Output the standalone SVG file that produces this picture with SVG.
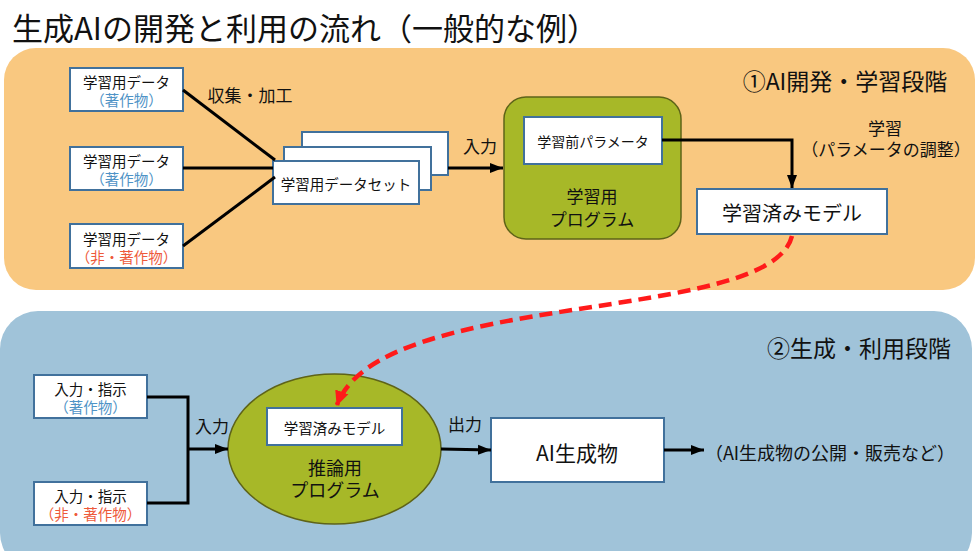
<svg xmlns="http://www.w3.org/2000/svg" width="978" height="551" viewBox="0 0 978 551">
<defs>
<marker id="ah" markerUnits="userSpaceOnUse" markerWidth="14" markerHeight="12" refX="13" refY="6" orient="auto">
<path d="M0,1 L13,6 L0,11 Z" fill="#000"/>
</marker>
<marker id="ahr" markerUnits="userSpaceOnUse" markerWidth="16" markerHeight="16" refX="14" refY="8" orient="auto">
<path d="M0,1 L15,8 L0,15 Z" fill="#FF1A1A"/>
</marker>
<style>
text{font-family:"Noto Sans CJK JP","Noto Sans CJK SC",sans-serif;fill:#111;text-anchor:middle;dominant-baseline:central}
.box{fill:#fff;stroke:#41719C;stroke-width:2}
.ln{fill:none;stroke:#000;stroke-width:3}
.blue{fill:#4F93C6}
.red{fill:#EE5A3A}
.s15{font-size:14.5px}
.s17{font-size:17px}
.s18{font-size:18px}
.green{fill:#A7B828;stroke:#5E6318;stroke-width:1.5}
</style>
</defs>
<rect width="978" height="551" fill="#fff"/>
<text x="12" y="26" style="font-size:31px;text-anchor:start">生成AIの開発と利用の流れ（一般的な例）</text>
<rect id="panel1" x="4" y="48" width="971" height="242" rx="32" fill="#F9C880"/>
<rect id="panel2" x="0" y="311" width="972" height="260" rx="38" fill="#A0C3D9"/>
<text x="845" y="80" style="font-size:23px">①AI開発・学習段階</text>
<text x="859" y="347" style="font-size:23px">②生成・利用段階</text>

<g id="data1">
<rect class="box" x="70" y="68" width="113" height="43"/>
<text x="126.5" y="81" class="s15">学習用データ</text>
<text x="126.5" y="99" class="s15 blue">（著作物）</text>
</g>
<g id="data2">
<rect class="box" x="70" y="147" width="113" height="43"/>
<text x="126.5" y="160" class="s15">学習用データ</text>
<text x="126.5" y="178" class="s15 blue">（著作物）</text>
</g>
<g id="data3">
<rect class="box" x="70" y="224" width="113" height="44"/>
<text x="126.5" y="238" class="s15">学習用データ</text>
<text x="126.5" y="256" class="s15 red">（非・著作物）</text>
</g>
<g id="dataset">
<rect class="box" x="302" y="132" width="146" height="43"/>
<rect class="box" x="284" y="147" width="147" height="43"/>
<rect class="box" x="273" y="161" width="146" height="43"/>
<text x="346" y="183" class="s15">学習用データセット</text>
</g>
<g id="program">
<rect class="green" x="504" y="97" width="177" height="142" rx="22"/>
<rect class="box" x="524" y="117" width="138" height="47"/>
<text x="593" y="141" style="font-size:14px">学習前パラメータ</text>
<text x="592" y="195" class="s17">学習用</text>
<text x="592" y="218" class="s17">プログラム</text>
</g>
<g id="model">
<rect class="box" x="697" y="189" width="190" height="45"/>
<text x="792" y="212" style="font-size:20px">学習済みモデル</text>
</g>
<g id="input1">
<rect class="box" x="34" y="375" width="113" height="43"/>
<text x="90.5" y="388" class="s15">入力・指示</text>
<text x="90.5" y="406" class="s15 blue">（著作物）</text>
</g>
<g id="input2">
<rect class="box" x="34" y="482" width="113" height="43"/>
<text x="90.5" y="495" class="s15">入力・指示</text>
<text x="90.5" y="513" class="s15 red">（非・著作物）</text>
</g>
<g id="inference">
<ellipse class="green" cx="334.5" cy="449" rx="106.5" ry="75"/>
<rect class="box" x="267" y="408" width="135" height="37"/>
<text x="334.5" y="427" class="s15">学習済みモデル</text>
<text x="335" y="467" class="s18">推論用</text>
<text x="335" y="489" class="s18">プログラム</text>
</g>
<g id="output">
<rect class="box" x="491" y="418" width="173" height="64"/>
<text x="577" y="452" style="font-size:21px">AI生成物</text>
</g>

<g id="connectors">
<path class="ln" d="M183,90 L275,160"/>
<path class="ln" d="M183,168 L273,168"/>
<path class="ln" d="M183,246 L275,177"/>
<path class="ln" d="M448,168 L503,168" marker-end="url(#ah)"/>
<path class="ln" d="M662,140 L792,140 L792,188" marker-end="url(#ah)"/>
<path class="ln" d="M147,397 L188,397 L188,503 L147,503"/>
<path class="ln" d="M188,449 L228,449" marker-end="url(#ah)"/>
<path class="ln" d="M441,449 L491,450" marker-end="url(#ah)"/>
<path class="ln" d="M664,450 L704,450" marker-end="url(#ah)"/>
<path d="M792,236 C770,325 380,288 337,405" fill="none" stroke="#FF1A1A" stroke-width="4.5" stroke-dasharray="13 7" marker-end="url(#ahr)"/>
<text x="250" y="94" class="s17">収集・加工</text>
<text x="480" y="145" class="s17">入力</text>
<text x="885" y="127" class="s17">学習</text>
<text x="886" y="148" class="s17">（パラメータの調整）</text>
<text x="212" y="425" class="s17">入力</text>
<text x="465" y="423" class="s17">出力</text>
<text x="830" y="452" class="s18">（AI生成物の公開・販売など）</text>
</g>
</svg>
